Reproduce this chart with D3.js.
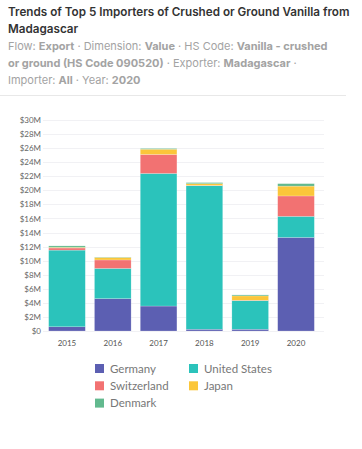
<!DOCTYPE html>
<html>
<head>
<meta charset="utf-8">
<script src="https://d3js.org/d3.v7.min.js"></script>
<style>
  body { margin: 0; background: #fff; }
  svg { display: block; }
</style>
</head>
<body>
<svg width="362" height="449"></svg>
<script>
// data (US$ millions)
var years = ['2015', '2016', '2017', '2018', '2019', '2020'];
var importers = ['Germany', 'United States', 'Switzerland', 'Japan', 'Denmark'];
var germany      = [0.6, 4.6, 3.55, 0.25, 0.25, 13.3];
var unitedStates = [10.9, 4.3, 18.85, 20.4, 4.07, 3.0];
var switzerland  = [0.3, 1.2, 2.7, 0.05, 0.05, 2.9];
var japan        = [0.1, 0.35, 0.75, 0.25, 0.62, 1.4];
var denmark      = [0.2, 0.05, 0.1, 0.15, 0.14, 0.35];
var yTicks = [0, 2, 4, 6, 8, 10, 12, 14, 16, 18, 20, 22, 24, 26, 28, 30];
var colors = ['#5c5fb2', '#2bc3bb', '#f27272', '#fbc63a', '#62b98e'];

var series = [germany, unitedStates, switzerland, japan, denmark];
var rows = years.map(function(y, i) {
  var r = { year: y };
  importers.forEach(function(k, j) { r[k] = series[j][i]; });
  return r;
});

var svg = d3.select('svg');

// title + subtitle
var title = svg.append('text')
  .attr('font-family', 'Inter, sans-serif')
  .attr('font-size', 11.7)
  .attr('font-weight', 600)
  .attr('fill', '#333');
title.append('tspan').attr('x', 8).attr('y', 16)
  .text('Trends of Top 5 Importers of Crushed or Ground Vanilla from');
title.append('tspan').attr('x', 8).attr('y', 33).text('Madagascar');

var subLines = [
  [['Flow: ', 0], ['Export', 1], [' · Dimension: ', 0], ['Value', 1], [' · HS Code: ', 0], ['Vanilla - crushed', 1]],
  [['or ground (HS Code 090520)', 1], [' · Exporter: ', 0], ['Madagascar', 1], [' ·', 0]],
  [['Importer: ', 0], ['All', 1], [' · Year: ', 0], ['2020', 1]]
];
subLines.forEach(function(line, i) {
  var t = svg.append('text')
    .attr('x', 8).attr('y', 50 + i * 17)
    .attr('font-family', 'Inter, sans-serif')
    .attr('font-size', 11)
    .attr('fill', '#a3a3a3');
  line.forEach(function(p) {
    t.append('tspan').attr('font-weight', p[1] ? 700 : 400).text(p[0]);
  });
});

svg.append('line')
  .attr('x1', 0).attr('x2', 346).attr('y1', 95.5).attr('y2', 95.5)
  .attr('stroke', '#e8e8e8');

// chart
var x = d3.scaleBand().domain(years).range([39.5, 323.5]).padding(0.2);
var y = d3.scaleLinear().domain([0, 30]).range([331, 120]);

var grid = svg.append('g');
grid.selectAll('line').data(yTicks).enter().append('line')
  .attr('x1', 43).attr('x2', 324)
  .attr('y1', function(d) { return Math.round(y(d)) + 0.5; })
  .attr('y2', function(d) { return Math.round(y(d)) + 0.5; })
  .attr('stroke', '#f1f1f4');

var yAxis = svg.append('g')
  .attr('transform', 'translate(41,0)')
  .call(d3.axisLeft(y).tickValues(yTicks).tickSize(0).tickPadding(0)
        .tickFormat(function(d) { return '$' + d + (d ? 'M' : ''); }));
yAxis.select('.domain').remove();
yAxis.selectAll('text')
  .attr('font-family', 'Lato, sans-serif')
  .attr('font-size', 8)
  .attr('fill', '#666');

var stack = d3.stack().keys(importers)(rows);
svg.append('g').selectAll('g').data(stack).enter().append('g')
  .attr('fill', function(d, i) { return colors[i]; })
  .selectAll('rect').data(function(d) { return d; }).enter().append('rect')
  .attr('x', function(d) { return x(d.data.year); })
  .attr('width', x.bandwidth())
  .attr('y', function(d) { return y(d[1]); })
  .attr('height', function(d) { return y(d[0]) - y(d[1]); })
  .attr('stroke', '#fff')
  .attr('stroke-opacity', 0.4)
  .attr('stroke-width', 0.5);

var xAxis = svg.append('g')
  .attr('transform', 'translate(0,336)')
  .call(d3.axisBottom(x).tickSize(0).tickPadding(4));
xAxis.select('.domain').remove();
xAxis.selectAll('text')
  .attr('font-family', 'Lato, sans-serif')
  .attr('font-size', 8)
  .attr('fill', '#555');

// legend
var legend = svg.append('g').selectAll('g').data(importers).enter().append('g')
  .attr('transform', function(d, i) {
    return 'translate(' + (95 + (i % 2) * 94) + ',' + (364 + Math.floor(i / 2) * 17.3) + ')';
  });
legend.append('rect')
  .attr('width', 9).attr('height', 9)
  .attr('fill', function(d, i) { return colors[i]; });
legend.append('text')
  .attr('x', 15).attr('y', 8.5)
  .attr('font-family', 'Lato, sans-serif')
  .attr('font-size', 11.5)
  .attr('fill', '#777')
  .text(function(d) { return d; });
</script>
</body>
</html>
